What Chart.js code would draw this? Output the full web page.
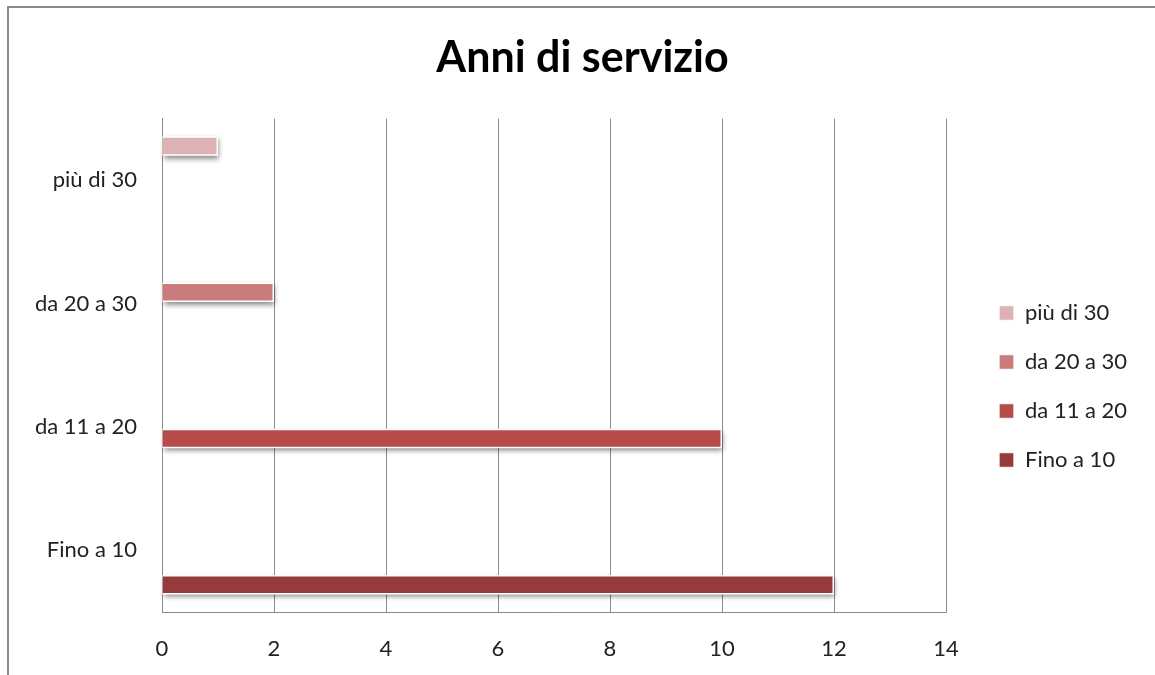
<!DOCTYPE html>
<html>
<head>
<meta charset="utf-8">
<script src="https://cdn.jsdelivr.net/npm/chart.js@4.4.1/dist/chart.umd.min.js"></script>
<style>
  html, body { margin: 0; padding: 0; background: #fff; }
  #wrap { position: relative; width: 1155px; height: 675px; overflow: hidden; }
  #frame { position: absolute; left: 7px; top: 6px; right: -10px; bottom: -10px;
           border-top: 2px solid #8a8a8a; border-left: 2px solid #8a8a8a; }
  canvas { position: absolute; left: 0; top: 0; }
</style>
</head>
<body>
<div id="wrap">
  <div id="frame"></div>
  <canvas id="chart" width="1155" height="675"></canvas>
</div>
<script>
/* ── Data ─────────────────────────────────────────── */
const categories = ["più di 30", "da 20 a 30", "da 11 a 20", "Fino a 10"];
const counts = [1, 2, 10, 12];
const barColors = ["#dcb2b4", "#ca7b7b", "#b64b4a", "#953b3c"];
const xTicks = [0, 2, 4, 6, 8, 10, 12, 14];

const GRID = "#8c8c8c";
const FONT = "Lato, 'Noto Sans', sans-serif";

// one series per category, each bar only in its own row
const datasets = categories.map((name, i) => ({
    label: name,
    data: categories.map((c, j) => (j === i ? counts[i] : null)),
    backgroundColor: barColors[i],
    borderColor: "rgba(255,255,255,0.85)",
    borderWidth: 1.5,
    categoryPercentage: 0.743,
    barPercentage: 0.85,
}));

/* ── Plugins ──────────────────────────────────────── */
// soft drop shadow under each bar (Excel look)
const barShadow = {
    id: "barShadow",
    beforeDatasetsDraw(chart) {
        const ctx = chart.ctx;
        ctx.save();
        ctx.shadowColor = "rgba(0,0,0,0.45)";
        ctx.shadowBlur = 5;
        ctx.shadowOffsetX = 1;
        ctx.shadowOffsetY = 3;
        ctx.fillStyle = "#fff";
        chart.data.datasets.forEach((ds, i) => {
            chart.getDatasetMeta(i).data.forEach((bar, j) => {
                if (ds.data[j] == null) return;
                const { x, y, base, height } = bar.getProps(["x", "y", "base", "height"], true);
                ctx.fillRect(base, y - height / 2, x - base, height);
            });
        });
        ctx.restore();
    },
};

// legend sits further right and lower than Chart.js would put it
const legendPlace = {
    id: "legendPlace",
    beforeInit(chart) {
        const fit = chart.legend.fit;
        chart.legend.fit = function () {
            fit.call(this);
            this.width = 209;
        };
    },
    afterLayout(chart) {
        const lg = chart.legend;
        lg.left = 972;
        lg.right = 1155;
        lg.top = 275;
        lg.bottom = 675;
    },
};

/* ── Chart ────────────────────────────────────────── */
new Chart(document.getElementById("chart"), {
    type: "bar",
    data: { labels: categories, datasets },
    plugins: [barShadow, legendPlace],
    options: {
        indexAxis: "y",
        responsive: false,
        animation: false,
        layout: { padding: { left: 10, right: 0, top: 0, bottom: 13 } },
        scales: {
            x: {
                min: 0,
                max: 14,
                afterBuildTicks: axis => { axis.ticks = xTicks.map(v => ({ value: v })); },
                afterFit: axis => { axis.height = 50; },
                grid: { color: GRID, lineWidth: 1, drawTicks: false },
                border: { display: true, color: GRID, width: 1 },
                ticks: { padding: 24, color: "#222", font: { family: FONT, size: 22 } },
            },
            y: {
                grid: { display: false, drawTicks: false },
                border: { display: true, color: GRID, width: 1 },
                afterFit: axis => {
                    axis.width = 152;
                    axis.paddingTop = 0;
                    axis.paddingBottom = 0;
                },
                ticks: { padding: 25, color: "#222", font: { family: FONT, size: 22 } },
            },
        },
        plugins: {
            title: {
                display: true,
                text: "Anni di servizio",
                color: "#000",
                font: { family: FONT, size: 43, weight: "bold" },
                padding: { top: 32, bottom: 35 },
            },
            legend: {
                position: "right",
                align: "start",
                labels: {
                    boxWidth: 15,
                    boxHeight: 15,
                    padding: 27,
                    color: "#222",
                    font: { family: FONT, size: 22 },
                },
            },
            tooltip: { enabled: false },
        },
    },
});
</script>
</body>
</html>
